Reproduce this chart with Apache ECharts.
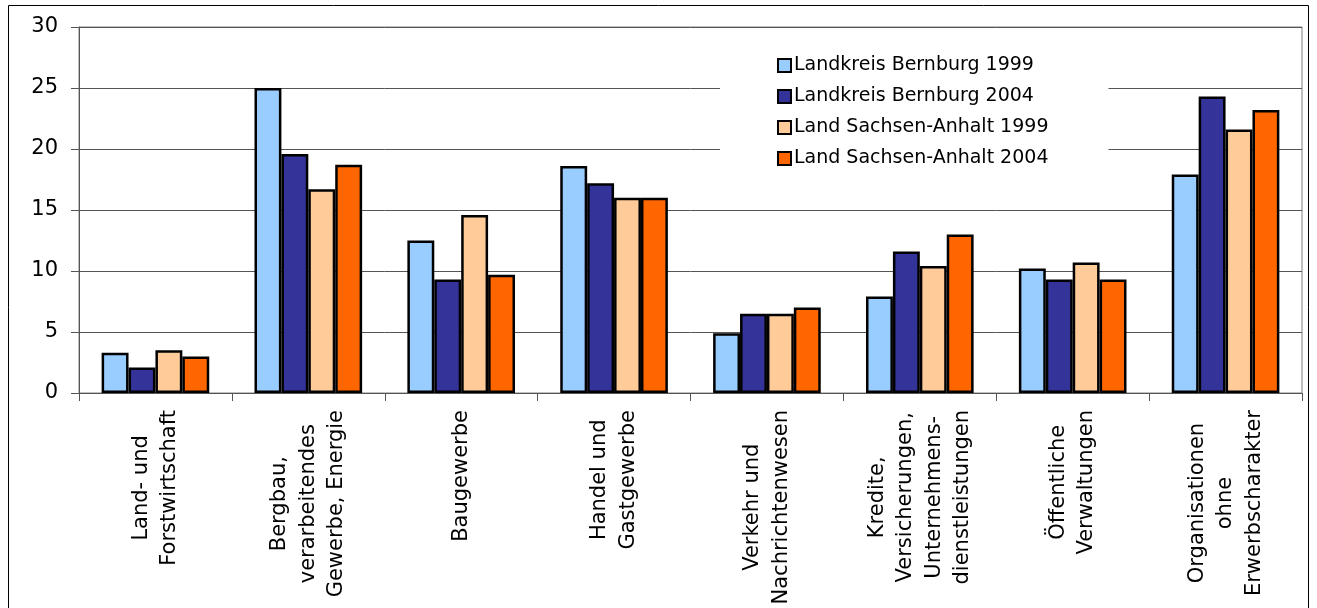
<!DOCTYPE html>
<html>
<head>
<meta charset="utf-8">
<script src="https://cdn.jsdelivr.net/npm/echarts@6/dist/echarts.min.js"></script>
<style>
html,body{margin:0;padding:0;background:#fff;}
#chart{width:1317px;height:608px;}
</style>
</head>
<body>
<div id="chart"></div>
<script>
var categories = [
  "Land- und\nForstwirtschaft",
  "Bergbau,\nverarbeitendes\nGewerbe, Energie",
  "Baugewerbe",
  "Handel und\nGastgewerbe",
  "Verkehr und\nNachrichtenwesen",
  "Kredite,\nVersicherungen,\nUnternehmens-\ndienstleistungen",
  "Öffentliche\nVerwaltungen",
  "Organisationen\nohne\nErwerbscharakter"
];
var seriesNames = [
  "Landkreis Bernburg 1999",
  "Landkreis Bernburg 2004",
  "Land Sachsen-Anhalt 1999",
  "Land Sachsen-Anhalt 2004"
];
var lk1999 = [3.3, 25.0, 12.5, 18.6, 4.9, 7.9, 10.2, 17.9];
var lk2004 = [2.1, 19.6, 9.3, 17.2, 6.5, 11.6, 9.3, 24.3];
var lsa1999 = [3.5, 16.7, 14.6, 16.0, 6.5, 10.4, 10.7, 21.6];
var lsa2004 = [3.0, 18.7, 9.7, 16.0, 7.0, 13.0, 9.3, 23.2];
var yTicks = [0, 5, 10, 15, 20, 25, 30];

var colors = ['#99CCFF', '#333399', '#FFCC99', '#FF6600'];
var font = 'DejaVu Sans';
var allData = [lk1999, lk2004, lsa1999, lsa2004];

var chart = echarts.init(document.getElementById('chart'));
var series = allData.map(function (d, i) {
  return {
    name: seriesNames[i],
    type: 'bar',
    data: d,
    barGap: '0%',
    barCategoryGap: '29.6%',
    itemStyle: { color: colors[i], borderColor: '#000', borderWidth: 2.5 }
  };
});

chart.setOption({
  animation: false,
  backgroundColor: '#fff',
  graphic: [{
    type: 'rect',
    shape: { x: 8.5, y: 5.5, width: 1300, height: 620 },
    style: { fill: 'none', stroke: '#000', lineWidth: 1 },
    z: 100
  }],
  grid: {
    left: 79, right: 15, top: 27, bottom: 215,
    containLabel: false,
    outerBoundsMode: 'none',
    show: true, borderColor: '#808080', borderWidth: 1
  },
  legend: {
    orient: 'vertical',
    left: 720, top: 46,
    padding: [10, 60, 12, 57],
    backgroundColor: '#fff',
    itemWidth: 13, itemHeight: 13, itemGap: 12,
    icon: 'rect',
    selectedMode: false,
    itemStyle: { borderColor: '#000', borderWidth: 2 },
    textStyle: { fontFamily: font, fontSize: 19, color: '#000', padding: [0, 0, 0, -2] },
    data: seriesNames,
    z: 10
  },
  xAxis: {
    type: 'category',
    data: categories,
    axisLine: { lineStyle: { color: '#555', width: 1 } },
    axisTick: { show: true, length: 8, lineStyle: { color: '#555' } },
    axisLabel: {
      rotate: 90,
      margin: 17,
      interval: 0,
      hideOverlap: false,
      formatter: function (v) {
        return v.split('\n').map(function (l) { return '{c|' + l + '}'; }).join('\n');
      },
      rich: {
        c: { align: 'center', fontFamily: font, fontSize: 21, lineHeight: 28.5, color: '#000' }
      }
    }
  },
  yAxis: {
    type: 'value',
    min: yTicks[0], max: yTicks[yTicks.length - 1], interval: 5,
    axisLine: { show: true, lineStyle: { color: '#555', width: 1 } },
    axisTick: { show: true, length: 8, lineStyle: { color: '#555' } },
    axisLabel: { fontFamily: font, fontSize: 21, color: '#000', margin: 21 },
    splitLine: { show: true, lineStyle: { color: '#555', width: 1 } }
  },
  series: series
});
</script>
</body>
</html>
